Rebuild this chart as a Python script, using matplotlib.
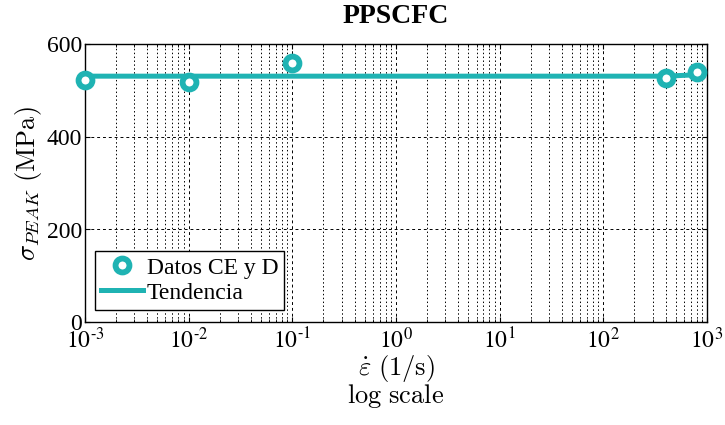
#!/usr/bin/env python3
"""PPSCFC peak stress vs strain rate (log scale), MATLAB-style figure."""
import matplotlib

matplotlib.use("Agg")
import matplotlib.pyplot as plt
from matplotlib.ticker import FuncFormatter, LogLocator, NullFormatter
import numpy as np

TEAL = "#1fb3b3"

# data
rate = [1e-3, 1e-2, 1e-1, 400, 800]
sigma_peak = [522, 518, 559, 527, 539]
trend_rate = [1e-3, 400, 800]
trend_sigma = [531, 531, 534]

plt.rcParams.update({
    "font.family": ["Liberation Serif", "DejaVu Serif"],
    "mathtext.fontset": "stix",
    "font.size": 16,
})


def _pow10(v, _pos):
    e = int(round(np.log10(v)))
    sign = "\u2010" if e < 0 else ""
    return r"$\mathrm{10}^{\mathrm{%s%d}}$" % (sign, abs(e))


fig = plt.figure(figsize=(7.25, 4.25), dpi=100)
ax = fig.add_axes([0.117, 0.242, 0.858, 0.654])

ax.plot(trend_rate, trend_sigma, "-", color=TEAL, linewidth=3.6, zorder=3, label="Tendencia")
ax.plot(rate, sigma_peak, "o", color=TEAL, markerfacecolor="white", markeredgecolor=TEAL,
        markersize=10, markeredgewidth=4.2, linestyle="none", zorder=4, clip_on=False,
        label="Datos CE y D")

ax.set_xscale("log")
ax.set_xlim(1e-3, 1e3)
ax.set_ylim(0, 600)
ax.set_yticks([0, 200, 400, 600])
ax.xaxis.set_major_locator(LogLocator(base=10, numticks=10))
ax.xaxis.set_major_formatter(FuncFormatter(_pow10))
ax.xaxis.set_minor_locator(LogLocator(base=10, subs=range(2, 10), numticks=100))
ax.xaxis.set_minor_formatter(NullFormatter())

ax.grid(True, which="major", color="black", linestyle=(0, (3, 3)), linewidth=0.7)
ax.grid(True, which="minor", axis="x", color="black", linestyle=(0, (1.5, 2.5)), linewidth=0.7)
ax.set_axisbelow(True)

ax.tick_params(which="both", direction="in", top=True, right=True, labelsize=17)
ax.tick_params(axis="x", pad=4)
ax.tick_params(axis="y", pad=2)
for s in ax.spines.values():
    s.set_linewidth(1.0)

ax.set_title("PPSCFC", fontsize=20, fontweight="bold", pad=15)
ax.set_ylabel(r"$\sigma_{PEAK}\ \mathrm{(MPa)}$", fontsize=19, labelpad=2, math_fontfamily="cm")
ax.set_xlabel(r"$\dot{\varepsilon}\ \mathrm{(1/s)}$" + "\n" + r"$\mathrm{log\ scale}$", fontsize=19,
              labelpad=0, linespacing=0.9, math_fontfamily="cm")

h, l = ax.get_legend_handles_labels()
leg = ax.legend(h[::-1], l[::-1], loc="lower left", bbox_to_anchor=(0.005, 0.02), fontsize=17,
                frameon=True, fancybox=False, edgecolor="black", framealpha=1,
                handlelength=1.8, handletextpad=0.15, borderpad=0.25, labelspacing=0.15,
                borderaxespad=0.3)
leg.get_frame().set_linewidth(1.0)

fig.savefig("out.png", dpi=100)
